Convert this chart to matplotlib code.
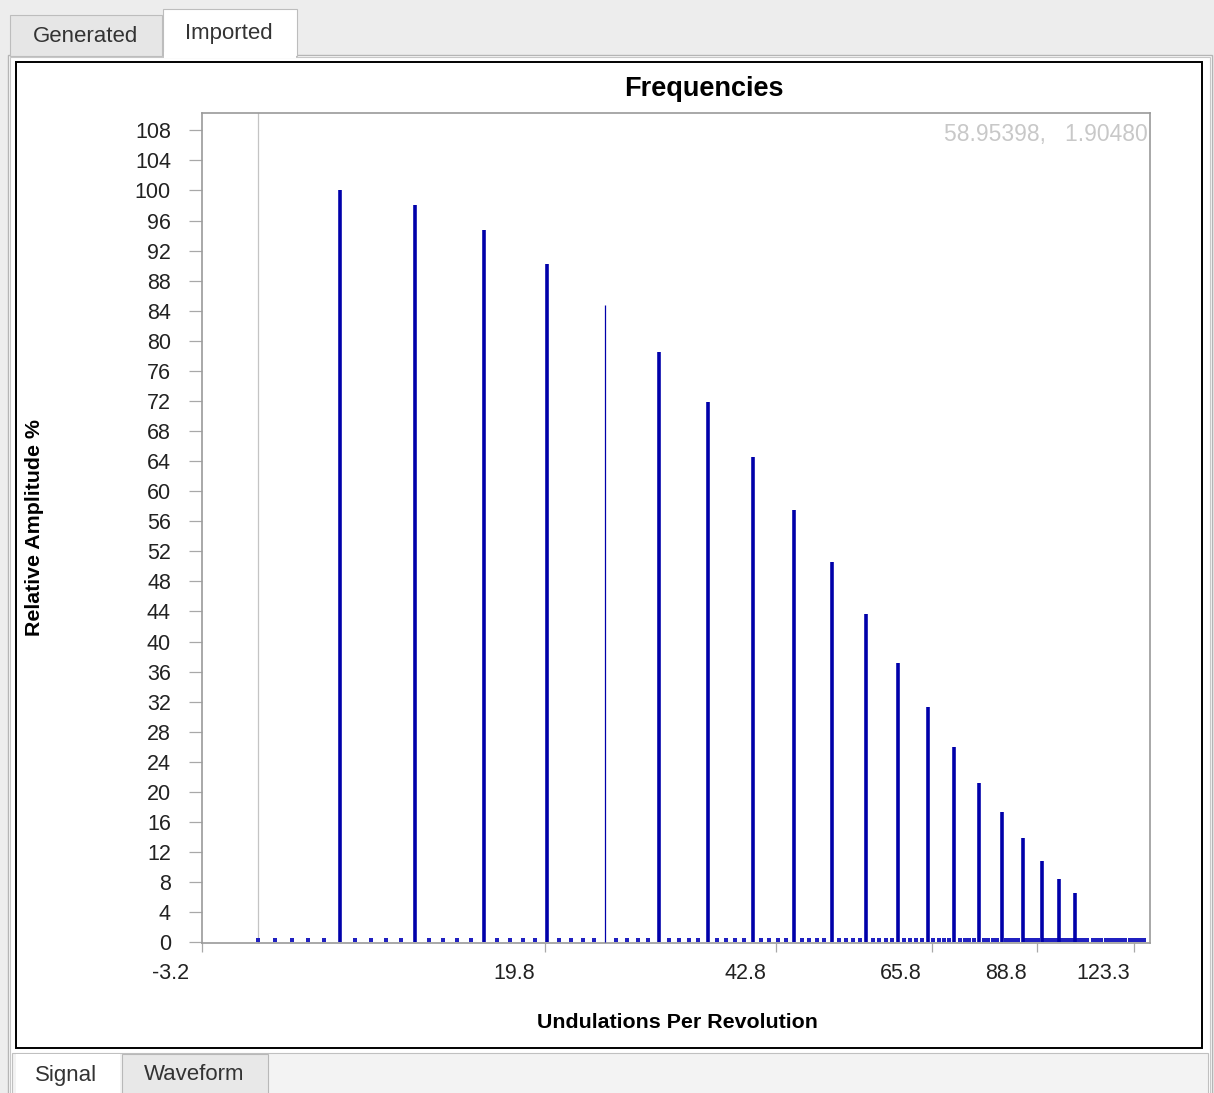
import matplotlib
matplotlib.use("Agg")
import matplotlib.pyplot as plt
import matplotlib.transforms as mtransforms
from matplotlib.patches import Rectangle
import numpy as np

plt.rcParams['font.family'] = ['Liberation Sans', 'DejaVu Sans']

# harmonic spectrum (undulations per revolution -> relative amplitude %)
bar_x = np.array([5, 10, 15, 20, 25, 30, 35, 40, 45, 50,
                  55, 60, 65, 70, 75, 80, 85, 90, 95, 100])
bar_y = np.array([100.0, 98.1, 94.7, 90.2, 84.7, 78.5, 71.8, 64.6, 57.5, 50.6,
                  43.7, 37.2, 31.3, 26.0, 21.2, 17.3, 13.9, 10.8, 8.4, 6.5])

# low-level floor samples at every other integer harmonic (0..128)
floor_x = np.array([i for i in range(0, 129) if i == 0 or i % 5 != 0])
floor_level = 0.25
floor_y = np.full(len(floor_x), floor_level)

xtick_vals = [-3.2, 19.8, 42.8, 65.8, 88.8, 123.3]
xtick_labels = ['-3.2', '19.8', '42.8', '65.8', '88.8', '123.3']
ytick_vals = list(range(0, 109, 4))
cursor_text = '58.95398,   1.90480'

W, H = 1214, 1093
fig = plt.figure(figsize=(W / 100, H / 100), dpi=100)
fig.patch.set_facecolor('#ededed')


def box(x0, y0, x1, y1, fc, ec='none', lw=1.0, z=0):
    # rectangle given in pixel coords with origin at top-left
    r = Rectangle((x0 / W, 1 - y1 / H), (x1 - x0) / W, (y1 - y0) / H,
                  transform=fig.transFigure, facecolor=fc, edgecolor=ec,
                  linewidth=lw, zorder=z)
    fig.patches.append(r)


# window chrome: tabs and panel
box(8, 55, 1212, 1100, '#ffffff', '#b5b5b5', 1.0)
box(10, 57, 1210, 1100, 'none', '#c8c8c8', 0.8)
box(16, 62, 1202, 1048, '#ffffff', '#000000', 1.4)
box(12, 1053, 1208, 1100, '#f3f3f3', '#c0c0c0', 0.8)
box(16, 1054, 120, 1100, '#ffffff')
box(122, 1054, 268, 1100, '#e8e8e8', '#b8b8b8', 0.8)
box(10, 15, 162, 56, '#e6e6e6', '#bdbdbd', 0.8)
box(163, 9, 297, 56, '#ffffff', '#bdbdbd', 0.8)
box(164, 52, 296, 58, '#ffffff')

tab_font = dict(fontsize=16, color='#333333', ha='center', va='center')
fig.text(85 / W, 1 - 36 / H, 'Generated', **tab_font)
fig.text(229 / W, 1 - 34 / H, 'Imported', **tab_font)
fig.text(66 / W, 1 - 1076 / H, 'Signal', **tab_font)
fig.text(194 / W, 1 - 1074 / H, 'Waveform', **tab_font)

# plot area
ax = fig.add_axes([202 / W, 1 - 943 / H, (1150 - 202) / W, (943 - 113) / H])
ax.set_zorder(2)

L = 58.4


def fwd(x):
    return -np.exp(-np.asarray(x, dtype=float) / L)


def inv(y):
    with np.errstate(invalid='ignore', divide='ignore'):
        return -L * np.log(-np.asarray(y, dtype=float))


ax.set_xscale('function', functions=(fwd, inv))
ax.set_xlim(-3.2, 131.4)
ax.set_ylim(-0.1, 110.3)

ax.axvline(0, color='#c4c4c4', lw=0.9, zorder=1)
blue = '#0000aa'
ax.plot(floor_x, floor_y, linestyle='none', marker='s', markersize=2.3,
        markeredgewidth=0, color='#2020c0', zorder=2)
widths = np.where(bar_x == 25, 0.9, 2.6)
ax.vlines(bar_x, 0, bar_y, colors=blue, linewidths=widths, zorder=3)

ax.set_xticks(xtick_vals)
ax.set_xticklabels(xtick_labels)
ax.xaxis.set_minor_locator(matplotlib.ticker.NullLocator())
ax.set_yticks(ytick_vals)
ax.tick_params(axis='y', length=9.4, width=0.9, pad=13, color='#a8a8a8',
               labelsize=15.5, labelcolor='#222222')
ax.tick_params(axis='x', length=6.5, width=0.9, pad=8, color='#a8a8a8',
               labelsize=15.5, labelcolor='#222222')
shift = mtransforms.ScaledTranslation(-31 / 100, 0, fig.dpi_scale_trans)
for lab in ax.get_xticklabels():
    lab.set_transform(lab.get_transform() + shift)
for sp in ax.spines.values():
    sp.set_color('#9a9a9a')
    sp.set_linewidth(1.2)

fig.text(704 / W, 1 - 89 / H, 'Frequencies', fontsize=19.5, fontweight='bold',
         ha='center', va='center')
fig.text(677 / W, 1 - 1023 / H, 'Undulations Per Revolution', fontsize=15.4,
         fontweight='bold', ha='center', va='center')
fig.text(35 / W, 1 - 528 / H, 'Relative Amplitude %', fontsize=15.4,
         fontweight='bold', ha='center', va='center', rotation=90)
fig.text(1148 / W, 1 - 134 / H, cursor_text, fontsize=16.5, color='#c8c8c8',
         ha='right', va='center', zorder=5)

fig.savefig('out.png', dpi=100, facecolor=fig.get_facecolor())
